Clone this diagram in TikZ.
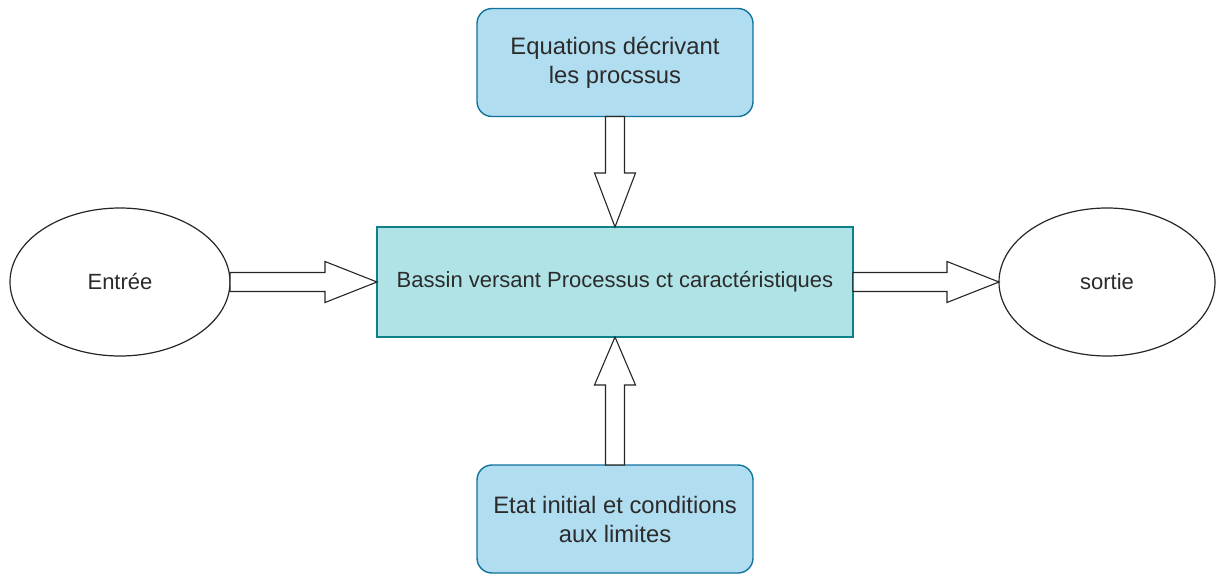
\documentclass[tikz,border=0pt]{standalone}
\usepackage{fontspec}
\setmainfont{Liberation Sans}
\usetikzlibrary{calc,shapes.geometric}

\definecolor{boxblue}{HTML}{B1DDF0}
\definecolor{boxbluedraw}{HTML}{10739E}
\definecolor{boxteal}{HTML}{B0E3E6}
\definecolor{boxtealdraw}{HTML}{0E8088}
\definecolor{txt}{HTML}{2B2B2B}

\tikzset{
  lbl/.style={text=txt, font=\fontsize{22}{29}\selectfont, align=center, inner sep=0pt, outer sep=0pt},
  roundbox/.style={lbl, font=\fontsize{23.8}{29}\selectfont, rectangle, rounded corners=15pt,
    draw=boxbluedraw, fill=boxblue, line width=1.4pt, minimum width=276pt, minimum height=108pt},
  mainbox/.style={lbl, rectangle, draw=boxtealdraw, fill=boxteal, line width=1.4pt,
    minimum width=476pt, minimum height=110pt},
  oval/.style={lbl, ellipse, draw=black!85, fill=white, line width=1.2pt, minimum height=148pt},
  fatarrow/.style={draw=black!85, fill=white, line width=1.1pt, line join=miter}
}

\begin{document}
\begin{tikzpicture}[x=1pt,y=-1pt]
  \useasboundingbox (0,0) rectangle (1216,575);

  % nodes
  \node[mainbox] (bv) at (615,282) {Bassin versant Processus ct caractéristiques};
  \node[roundbox] (eq) at (615,62.5) {Equations décrivant\\les procssus};
  \node[roundbox] (ci) at (615,519) {Etat initial et conditions\\aux limites};
  \node[oval, minimum width=220pt] (in) at (120,282) {Entrée};
  \node[oval, minimum width=216pt] (out) at (1107,282) {sortie};

  % block arrows: shaft half-width 9.5, head half-width 20.5, head length 52
  \draw[fatarrow] ($(in.east)+(0,-9.5)$) -- ($(bv.west)+(-52,-9.5)$) -- ($(bv.west)+(-52,-20.5)$)
    -- (bv.west) -- ($(bv.west)+(-52,20.5)$) -- ($(bv.west)+(-52,9.5)$) -- ($(in.east)+(0,9.5)$) -- cycle;
  \draw[fatarrow] ($(bv.east)+(0,-9.5)$) -- ($(out.west)+(-52,-9.5)$) -- ($(out.west)+(-52,-20.5)$)
    -- (out.west) -- ($(out.west)+(-52,20.5)$) -- ($(out.west)+(-52,9.5)$) -- ($(bv.east)+(0,9.5)$) -- cycle;
  \draw[fatarrow] ($(eq.south)+(-9.5,0)$) -- ($(bv.north)+(-9.5,-54)$) -- ($(bv.north)+(-20.5,-54)$)
    -- (bv.north) -- ($(bv.north)+(20.5,-54)$) -- ($(bv.north)+(9.5,-54)$) -- ($(eq.south)+(9.5,0)$) -- cycle;
  \draw[fatarrow] ($(ci.north)+(-9.5,0)$) -- ($(bv.south)+(-9.5,48)$) -- ($(bv.south)+(-20.5,48)$)
    -- (bv.south) -- ($(bv.south)+(20.5,48)$) -- ($(bv.south)+(9.5,48)$) -- ($(ci.north)+(9.5,0)$) -- cycle;
\end{tikzpicture}
\end{document}
